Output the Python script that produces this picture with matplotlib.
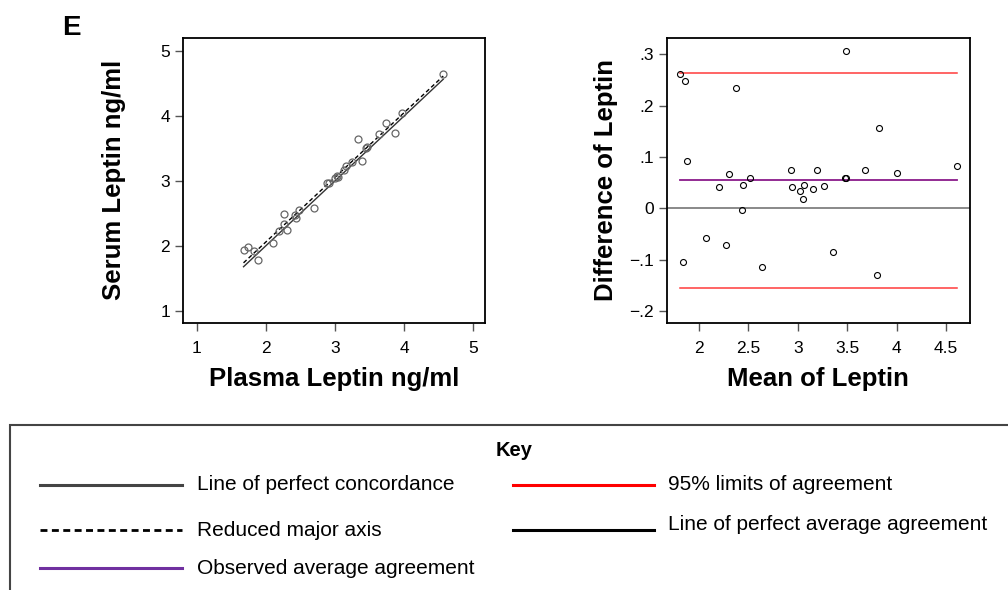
import numpy as np
import matplotlib
matplotlib.use("Agg")
import matplotlib.pyplot as plt
from matplotlib.lines import Line2D
from matplotlib.patches import Rectangle

plt.rcParams['font.family'] = ['Liberation Sans', 'DejaVu Sans']

# Data
plasma = [1.677, 1.737, 1.829, 1.887, 2.100, 2.186, 2.310, 2.268, 2.261, 2.435,
          2.423, 2.485, 2.689, 2.889, 2.920, 3.005, 3.039, 3.035, 3.134, 3.157,
          3.239, 3.395, 3.445, 3.459, 3.335, 3.639, 3.740, 3.870, 3.974, 4.565]
serum = [1.938, 1.985, 1.922, 1.783, 2.043, 2.227, 2.238, 2.335, 2.496, 2.432,
         2.469, 2.544, 2.575, 2.964, 2.961, 3.038, 3.057, 3.081, 3.172, 3.232,
         3.283, 3.310, 3.504, 3.518, 3.641, 3.714, 3.897, 3.741, 4.043, 4.648]
limits_of_agreement = [0.264, -0.155]
observed_average = 0.055

left_ticks = [1, 2, 3, 4, 5]
right_xticks = [2, 2.5, 3, 3.5, 4, 4.5]
right_xticklabels = ["2", "2.5", "3", "3.5", "4", "4.5"]
right_yticks = [0.3, 0.2, 0.1, 0.0, -0.1, -0.2]
right_yticklabels = [".3", ".2", ".1", "0", "\u2212.1", "\u2212.2"]

legend_left = ["Line of perfect concordance", "Reduced major axis", "Observed average agreement"]
legend_right = ["95% limits of agreement", "Line of perfect average agreement"]

p = np.array(plasma)
s = np.array(serum)
mean = (p + s) / 2
diff = s - p

W, H = 1008, 590
fig = plt.figure(figsize=(W / 100, H / 100), dpi=100)

def fx(px):
    return px / W

def fy(py):
    return 1 - py / H

tick_kw = dict(direction='out', length=6, width=1, color='#555555', labelsize=12.5,
               labelcolor='black')
LABEL_FS = 18.5

# Left: concordance plot
ax1 = fig.add_axes([fx(183.3), fy(322.7), fx(485 - 183.3), (322.7 - 37.7) / H])
xl = np.array([p.min(), p.max()])
ax1.plot(xl, xl, color='#333333', lw=1.0, zorder=2)
b = np.std(s) / np.std(p)
a = s.mean() - b * p.mean()
ax1.plot(xl, a + b * xl, color='black', lw=1.0, ls=(0, (3, 2)), zorder=2)
ax1.plot(p, s, 'o', mfc='none', mec='#666666', ms=5, mew=0.9, zorder=3)
ax1.set_xlim(0.806, 5.169)
ax1.set_ylim(0.815, 5.205)
ax1.set_xticks(left_ticks)
ax1.set_yticks(left_ticks)
ax1.tick_params(**tick_kw)
ax1.tick_params(axis='x', pad=7)
ax1.tick_params(axis='y', pad=3.5)
ax1.set_xlabel("Plasma Leptin ng/ml", fontsize=LABEL_FS, fontweight='bold', labelpad=8)
ax1.set_ylabel("Serum Leptin ng/ml", fontsize=LABEL_FS, fontweight='bold', labelpad=25)
for sp in ax1.spines.values():
    sp.set_linewidth(1.3)

# Right: Bland-Altman plot
ax2 = fig.add_axes([fx(666.7), fy(323), fx(970 - 666.7), (323 - 37.7) / H])
ax2.axhline(0, color='#808080', lw=1.3, zorder=1)
xm = [mean.min(), mean.max()]
for lim in limits_of_agreement:
    ax2.plot(xm, [lim, lim], color='#ff3b3b', lw=1.1, zorder=2)
ax2.plot(xm, [observed_average, observed_average], color='#8a1a8a', lw=1.3, zorder=2)
ax2.plot(mean, diff, 'o', mfc='none', mec='black', ms=4.3, mew=0.8, zorder=3)
ax2.set_xlim(1.672, 4.743)
ax2.set_ylim(-0.223, 0.332)
ax2.set_xticks(right_xticks)
ax2.set_xticklabels(right_xticklabels)
ax2.set_yticks(right_yticks)
ax2.set_yticklabels(right_yticklabels)
ax2.tick_params(**tick_kw)
ax2.tick_params(axis='x', pad=7)
ax2.tick_params(axis='y', pad=3)
ax2.set_xlabel("Mean of Leptin", fontsize=LABEL_FS, fontweight='bold', labelpad=8)
ax2.set_ylabel("Difference of Leptin", fontsize=LABEL_FS, fontweight='bold', labelpad=8)
for sp in ax2.spines.values():
    sp.set_linewidth(1.3)

# Panel letter
fig.text(fx(62), fy(28), "E", fontsize=20, fontweight='bold', va='center', ha='left')

# Key box
fig.add_artist(Rectangle((fx(10), -0.1), 1.2, fy(425) + 0.1, transform=fig.transFigure,
                         fill=False, edgecolor='#444444', lw=1.5))
fig.text(fx(514), fy(451), "Key", fontsize=14.5, fontweight='bold', ha='center', va='center')

rows = [485, 530, 568]
styles_left = [dict(color='#444444', lw=2.2, ls='-'),
               dict(color='black', lw=2.0, ls=(0, (2.5, 1.6))),
               dict(color='#7030a0', lw=2.2, ls='-')]
for label, y, st in zip(legend_left, rows, styles_left):
    fig.add_artist(Line2D([fx(40), fx(182)], [fy(y), fy(y)], transform=fig.transFigure, **st))
    fig.text(fx(197), fy(y), label, fontsize=15, ha='left', va='center')

styles_right = [dict(color='#ff0000', lw=2.2, ls='-'),
                dict(color='black', lw=2.2, ls='-')]
text_rows_right = [485, 525]
for label, y, ty, st in zip(legend_right, rows[:2], text_rows_right, styles_right):
    fig.add_artist(Line2D([fx(513), fx(654)], [fy(y), fy(y)], transform=fig.transFigure, **st))
    fig.text(fx(668), fy(ty), label, fontsize=15, ha='left', va='center')

fig.savefig("out.png", dpi=100)
